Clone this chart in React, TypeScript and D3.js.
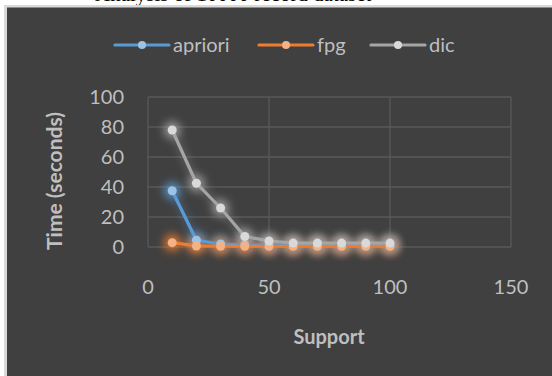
import React from "react";
import * as d3 from "d3";

const supports = [10, 20, 30, 40, 50, 60, 70, 80, 90, 100];
const aprioriTimes = [37.5, 4.5, 2, 1.5, 1, 1, 1, 1, 1, 1];
const fpgTimes = [2.9, 0.7, 0.5, 0.5, 0.5, 0.5, 0.5, 0.5, 0.5, 0.5];
const dicTimes = [78, 42.5, 26, 7, 4, 2.6, 2.6, 2.6, 2.6, 2.6];
const xTicks = [0, 50, 100, 150];
const yTicks = [0, 20, 40, 60, 80, 100];
const seriesNames = ["apriori", "fpg", "dic"];

const W = 552;
const H = 376;
const FONT = "Lato, 'Open Sans', sans-serif";

export default function App() {
  const x = d3.scaleLinear().domain([0, 150]).range([148, 511]);
  const y = d3.scaleLinear().domain([0, 100]).range([247, 97]);
  const line = d3
    .line<[number, number]>()
    .x((d) => x(d[0]))
    .y((d) => y(d[1]));

  const series = [
    { name: seriesNames[0], values: aprioriTimes, color: "#5b9bd5", marker: "#9dc3e6" },
    { name: seriesNames[1], values: fpgTimes, color: "#ed7d31", marker: "#f4b183" },
    { name: seriesNames[2], values: dicTimes, color: "#a5a5a5", marker: "#d9d9d9" },
  ];

  const legendX = [115, 259, 371];
  const legendY = 45;
  const textColor = "#bfbfbf";
  const gridColor = "#595959";

  return (
    <svg
      width={W}
      height={H}
      style={{ position: "absolute", left: 0, top: 0 }}
      xmlns="http://www.w3.org/2000/svg"
    >
      <defs>
        <filter id="glow" x="-200%" y="-200%" width="500%" height="500%">
          <feGaussianBlur stdDeviation="4.5" />
        </filter>
      </defs>
      <rect x={0} y={0} width={W} height={H} fill="#ffffff" />
      <text
        x={95}
        y={1}
        fontFamily="'Liberation Serif', 'DejaVu Serif', serif"
        fontSize={21}
        fill="#000"
      >
        Analysis of 10000 record dataset
      </text>
      <rect x={4} y={5} width={W - 4} height={H - 5} fill="#d9d9d9" />
      <rect x={7} y={7.5} width={W - 7} height={H - 7.5} fill="#404040" />

      {/* gridlines */}
      {yTicks.map((t) => (
        <line key={"gy" + t} x1={x(0)} x2={x(150)} y1={y(t)} y2={y(t)} stroke={gridColor} strokeWidth={1.3} />
      ))}
      {xTicks.map((t) => (
        <line key={"gx" + t} x1={x(t)} x2={x(t)} y1={y(0)} y2={y(100)} stroke={gridColor} strokeWidth={1.3} />
      ))}

      {/* y tick labels */}
      {yTicks.map((t) => (
        <text
          key={"yt" + t}
          x={124}
          y={y(t)}
          dy="0.36em"
          textAnchor="end"
          fontFamily={FONT}
          fontSize={20}
          fill={textColor}
        >
          {t}
        </text>
      ))}
      {/* x tick labels */}
      {xTicks.map((t) => (
        <text
          key={"xt" + t}
          x={x(t)}
          y={294}
          textAnchor="middle"
          fontFamily={FONT}
          fontSize={20}
          fill={textColor}
        >
          {t}
        </text>
      ))}

      {/* axis titles */}
      <text
        transform={`translate(62,${181}) rotate(-90)`}
        textAnchor="middle"
        fontFamily={FONT}
        fontWeight="bold"
        fontSize={21}
        fill={textColor}
      >
        Time (seconds)
      </text>
      <text
        x={329}
        y={344}
        textAnchor="middle"
        fontFamily={FONT}
        fontWeight="bold"
        fontSize={20}
        fill={textColor}
      >
        Support
      </text>

      {/* glow */}
      {series.map((s) => {
        const pts: [number, number][] = supports.map((sv, i) => [sv, s.values[i]]);
        return (
          <g key={s.name} filter="url(#glow)" opacity={0.85}>
            <path d={line(pts) || ""} fill="none" stroke={s.color} strokeWidth={6} opacity={0.4} />
            {pts.map((p, i) => (
              <circle key={i} cx={x(p[0])} cy={y(p[1])} r={8.5} fill={s.color} />
            ))}
          </g>
        );
      })}
      {/* lines and markers */}
      {series.map((s) => {
        const pts: [number, number][] = supports.map((sv, i) => [sv, s.values[i]]);
        return (
          <g key={s.name + "m"}>
            <path
              d={line(pts) || ""}
              fill="none"
              stroke={s.color}
              strokeWidth={3.2}
              strokeLinejoin="round"
              strokeLinecap="round"
            />
            {pts.map((p, i) => (
              <circle key={i} cx={x(p[0])} cy={y(p[1])} r={4.5} fill={s.marker} />
            ))}
          </g>
        );
      })}

      {/* legend */}
      {series.map((s, i) => (
        <g key={"lg" + s.name}>
          <line
            x1={legendX[i]}
            x2={legendX[i] + 54}
            y1={legendY}
            y2={legendY}
            stroke={s.color}
            strokeWidth={3.2}
            strokeLinecap="round"
          />
          <circle cx={legendX[i] + 27} cy={legendY} r={4} fill={s.marker} />
          <text
            x={legendX[i] + 58}
            y={legendY}
            dy="0.36em"
            fontFamily={FONT}
            fontSize={20}
            fill={textColor}
          >
            {s.name}
          </text>
        </g>
      ))}
    </svg>
  );
}
